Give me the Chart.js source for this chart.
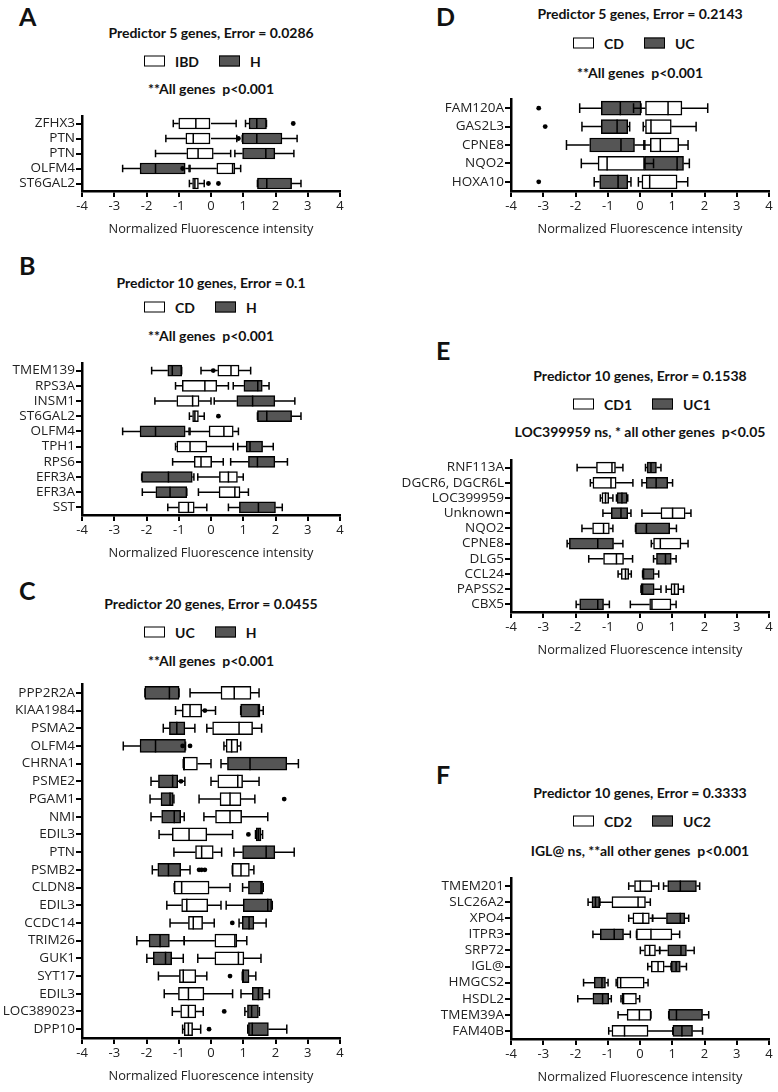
<!DOCTYPE html>
<html>
<head>
<meta charset="utf-8">
<script src="https://cdn.jsdelivr.net/npm/chart.js@4.4.1/dist/chart.umd.min.js"></script>
<style>
  body { margin: 0; background: #fff; }
  #fig { position: relative; width: 778px; height: 1092px; font-family: Lato, "Open Sans", sans-serif; color: #111; overflow: hidden; }
  .letter { position: absolute; font-weight: bold; font-size: 25px; transform: translateY(-50%); }
  .ttl { position: absolute; transform: translate(-50%, -50%); white-space: pre; font-weight: bold; font-size: 14px; }
  .leg { position: absolute; transform: translateY(-50%); display: flex; align-items: center; font-weight: bold; font-size: 14px; white-space: nowrap; }
  .sw { width: 19px; height: 9px; border: 1.5px solid #000; margin-right: 10px; }
  .leg span.lab { margin-right: 20px; }
  canvas { position: absolute; }
</style>
</head>
<body>
<div id="fig"></div>
<script>
// ---- data: [min, q1, median, q3, max] per gene, plus outlier points ----

// A
const aGenes = ['ZFHX3', 'PTN', 'PTN', 'OLFM4', 'ST6GAL2'];
const aGroups = ['IBD', 'H'];
const aWhite = [[-1.17, -1.0, -0.47, 0.0, 0.78], [-1.4, -0.78, -0.55, 0.0, 0.8], [-1.72, -0.75, -0.4, 0.07, 0.61], [-0.65, 0.18, 0.67, 0.74, 0.92], [-0.67, -0.57, -0.5, -0.39, -0.21]];
const aDark = [[1.07, 1.18, 1.42, 1.72, 1.72], [0.97, 0.97, 1.42, 2.2, 2.67], [0.74, 0.98, 1.7, 1.98, 2.57], [-2.74, -2.2, -1.72, -0.8, -0.68], [1.44, 1.44, 1.73, 2.5, 2.79]];
const aWhiteOut = [[], [0.85], [], [-0.88], [-0.08, 0.23]];
const aDarkOut = [[2.55], [], [], [], []];

// B
const bGenes = ['TMEM139', 'RPS3A', 'INSM1', 'ST6GAL2', 'OLFM4', 'TPH1', 'RPS6', 'EFR3A', 'EFR3A', 'SST'];
const bGroups = ['CD', 'H'];
const bWhite = [[-0.31, 0.21, 0.62, 0.87, 1.23], [-1.1, -0.89, -0.19, 0.18, 0.54], [-1.74, -1.06, -0.57, -0.37, 0.0], [-0.67, -0.57, -0.5, -0.39, -0.21], [-0.65, -0.06, 0.4, 0.69, 0.85],
  [-1.1, -1.06, -0.65, -0.13, 0.69], [-1.19, -0.52, -0.31, 0.02, 0.38], [-0.41, 0.26, 0.54, 0.82, 1.0], [-0.39, 0.25, 0.74, 0.9, 1.16], [-1.34, -1.01, -0.7, -0.52, -0.13]];
const bDark = [[-1.84, -1.34, -1.2, -0.91, -0.91], [0.69, 1.02, 1.45, 1.59, 1.8], [0.1, 0.8, 1.29, 1.98, 2.6], [1.44, 1.44, 1.73, 2.5, 2.79], [-2.74, -2.2, -1.72, -0.8, -0.68],
  [0.83, 1.09, 1.21, 1.6, 1.93], [0.61, 1.16, 1.44, 1.98, 2.37], [-2.15, -2.15, -1.32, -0.58, -0.53], [-2.13, -1.71, -1.27, -0.75, -0.75], [0.54, 0.88, 1.47, 2.0, 2.21]];
const bWhiteOut = [[], [], [], [0.23], [], [], [], [], [], []];
const bDarkOut = [[0.07], [], [], [], [], [], [], [], [], []];

// C
const cGenes = ['PPP2R2A', 'KIAA1984', 'PSMA2', 'OLFM4', 'CHRNA1', 'PSME2', 'PGAM1', 'NMI', 'EDIL3', 'PTN',
  'PSMB2', 'CLDN8', 'EDIL3', 'CCDC14', 'TRIM26', 'GUK1', 'SYT17', 'EDIL3', 'LOC389023', 'DPP10'];
const cGroups = ['UC', 'H'];
const cWhite = [[-0.65, 0.31, 0.72, 1.24, 1.49], [-1.1, -0.89, -0.65, -0.29, 0.14], [-0.13, 0.05, 0.87, 1.29, 1.57], [0.4, 0.47, 0.64, 0.83, 0.92], [-0.86, -0.86, -0.83, -0.42, 0.0],
  [0.0, 0.21, 0.83, 0.98, 1.49], [-0.37, 0.28, 0.59, 0.93, 1.36], [-0.22, 0.14, 0.59, 0.95, 1.76], [-1.61, -1.2, -0.68, -0.13, 0.67], [-1.15, -0.48, -0.29, 0.07, 0.33],
  [0.66, 0.66, 0.93, 1.19, 1.33], [-1.14, -1.14, -0.91, -0.06, 0.59], [-1.37, -0.91, -0.75, -0.1, 0.31], [-1.27, -0.7, -0.55, -0.26, 0.1], [-0.83, 0.12, 0.74, 0.8, 1.11],
  [-0.41, 0.12, 0.85, 1.02, 1.55], [-1.63, -0.98, -0.86, -0.47, -0.13], [-1.45, -1.01, -0.7, -0.22, 0.67], [-1.2, -0.94, -0.7, -0.47, -0.24], [-0.88, -0.83, -0.7, -0.57, -0.32]];
const cDark = [[-2.05, -2.05, -1.29, -0.99, -0.99], [0.92, 0.92, 1.47, 1.52, 1.62], [-1.48, -1.29, -1.06, -0.81, -0.5], [-2.72, -2.2, -1.72, -0.79, -0.79], [0.31, 0.51, 1.21, 2.35, 2.71],
  [-1.86, -1.63, -1.19, -1.03, -0.81], [-1.89, -1.55, -1.27, -1.17, -1.15], [-1.86, -1.53, -1.14, -0.94, -0.83], [1.38, 1.4, 1.47, 1.55, 1.6], [0.71, 0.98, 1.71, 1.98, 2.58],
  [-1.82, -1.65, -1.32, -0.94, -0.65], [0.98, 1.16, 1.55, 1.6, 1.62], [0.47, 1.0, 1.76, 1.88, 1.9], [0.87, 0.97, 1.18, 1.33, 1.71], [-2.3, -1.92, -1.58, -1.29, -0.83],
  [-1.99, -1.79, -1.41, -1.22, -0.86], [0.97, 0.97, 1.0, 1.18, 1.39], [0.93, 1.28, 1.47, 1.62, 1.81], [1.05, 1.13, 1.26, 1.47, 1.5], [1.14, 1.16, 1.28, 1.78, 2.35]];
const cWhiteOut = [[], [-0.19], [], [-0.88, -0.65], [], [], [2.27], [], [], [], [-0.37, -0.29, -0.19], [], [], [], [], [], [0.59], [], [0.41], [-0.06]];
const cDarkOut = [[], [], [], [], [], [-0.93], [], [], [1.16], [], [], [], [], [0.66], [], [], [], [], [], []];

// D
const dGenes = ['FAM120A', 'GAS2L3', 'CPNE8', 'NQO2', 'HOXA10'];
const dGroups = ['CD', 'UC'];
const dWhite = [[-0.2, 0.17, 0.87, 1.3, 2.1], [0.1, 0.17, 0.34, 0.97, 1.74], [0.15, 0.32, 0.63, 1.2, 1.49], [-1.82, -1.3, -1.02, 0.14, 0.42], [-0.05, 0.06, 0.3, 1.15, 1.48]];
const dDark = [[-1.87, -1.2, -0.61, 0.03, 0.03], [-1.8, -1.2, -0.71, -0.38, -0.32], [-2.28, -1.56, -0.59, -0.17, 0.12], [0.14, 0.14, 1.15, 1.35, 1.53], [-1.42, -1.25, -0.68, -0.38, -0.28]];
const dWhiteOut = [[], [], [], [], []];
const dDarkOut = [[-3.14], [-2.94], [], [], [-3.14]];

// E
const eGenes = ['RNF113A', 'DGCR6, DGCR6L', 'LOC399959', 'Unknown', 'NQO2', 'CPNE8', 'DLG5', 'CCL24', 'PAPSS2', 'CBX5'];
const eGroups = ['CD1', 'UC1'];
const eWhite = [[-1.95, -1.35, -0.87, -0.76, -0.53], [-1.54, -1.46, -0.9, -0.74, -0.22], [-1.23, -1.18, -1.07, -0.97, -0.84], [0.06, 0.65, 1.01, 1.4, 1.58], [-1.8, -1.47, -1.13, -0.95, -0.84],
  [0.35, 0.42, 0.63, 1.27, 1.49], [-1.59, -1.13, -0.73, -0.51, -0.23], [-0.68, -0.58, -0.45, -0.35, -0.27], [0.81, 0.96, 1.07, 1.2, 1.35], [-0.3, 0.3, 0.37, 0.96, 1.12]];
const eDark = [[0.17, 0.22, 0.34, 0.51, 0.65], [0.06, 0.19, 0.5, 0.86, 1.01], [-0.73, -0.71, -0.56, -0.4, -0.38], [-1.15, -0.89, -0.59, -0.38, -0.28], [-0.14, -0.14, 0.2, 0.92, 1.13],
  [-2.26, -2.19, -1.31, -0.82, -0.53], [0.42, 0.51, 0.79, 0.97, 1.12], [0.08, 0.08, 0.11, 0.44, 0.58], [0.03, 0.03, 0.08, 0.44, 0.65], [-1.98, -1.87, -1.31, -1.13, -0.95]];
const eWhiteOut = [[], [], [], [], [], [], [], [], [], []];
const eDarkOut = [[], [], [], [], [], [], [], [], [], []];

// F
const fGenes = ['TMEM201', 'SLC26A2', 'XPO4', 'ITPR3', 'SRP72', 'IGL@', 'HMGCS2', 'HSDL2', 'TMEM39A', 'FAM40B'];
const fGroups = ['CD2', 'UC2'];
const fWhite = [[-0.35, -0.17, 0.01, 0.37, 0.58], [-1.25, -0.87, -0.06, 0.17, 0.32], [-0.35, -0.22, 0.09, 0.29, 0.39], [-0.11, -0.11, 0.34, 0.99, 1.23], [0.01, 0.14, 0.3, 0.48, 0.61],
  [0.24, 0.35, 0.56, 0.75, 0.97], [-0.74, -0.71, -0.6, 0.13, 0.25], [-0.59, -0.56, -0.51, -0.11, -0.01], [-0.68, -0.4, -0.02, 0.34, 0.34], [-0.97, -0.87, -0.48, 0.25, 1.02]];
const fDark = [[0.73, 0.86, 1.25, 1.75, 1.85], [-1.61, -1.49, -1.38, -1.25, -1.25], [0.39, 0.82, 1.25, 1.39, 1.51], [-1.46, -1.23, -0.8, -0.51, -0.3], [0.61, 0.86, 1.27, 1.44, 1.68],
  [0.97, 0.97, 1.12, 1.25, 1.44], [-1.75, -1.42, -1.18, -1.07, -0.99], [-1.93, -1.46, -1.16, -0.97, -0.89], [0.89, 0.89, 1.13, 1.94, 2.13], [1.02, 1.02, 1.3, 1.63, 1.94]];
const fWhiteOut = [[], [], [], [], [], [], [], [], [], []];
const fDarkOut = [[], [], [], [], [], [], [], [], [], []];

const xTicks = [-4, -3, -2, -1, 0, 1, 2, 3, 4];

// ---- layout ----
const AXFONT = '"Open Sans", Lato, sans-serif';
const DARK = '#555555';
const fig = document.getElementById('fig');

const panels = [
  { letter: 'A', col: 0, letterY: 16, titleY: 32, legY: 61, subY: 88, top: 116, bottom: 191, bar: 11,
    title: 'Predictor 5 genes, Error = 0.0286', sub: '**All genes  p<0.001',
    genes: aGenes, groups: aGroups, white: aWhite, dark: aDark, wOut: aWhiteOut, dOut: aDarkOut },
  { letter: 'B', col: 0, letterY: 265, titleY: 282, legY: 307, subY: 335, top: 363, bottom: 515, bar: 11,
    title: 'Predictor 10 genes, Error = 0.1', sub: '**All genes  p<0.001',
    genes: bGenes, groups: bGroups, white: bWhite, dark: bDark, wOut: bWhiteOut, dOut: bDarkOut },
  { letter: 'C', col: 0, letterY: 590, titleY: 603, legY: 632, subY: 660, top: 684, bottom: 1038, bar: 13,
    title: 'Predictor 20 genes, Error = 0.0455', sub: '**All genes  p<0.001',
    genes: cGenes, groups: cGroups, white: cWhite, dark: cDark, wOut: cWhiteOut, dOut: cDarkOut },
  { letter: 'D', col: 1, letterY: 16, titleY: 13, legY: 43, subY: 72, top: 99, bottom: 191, bar: 14,
    title: 'Predictor 5 genes, Error = 0.2143', sub: '**All genes  p<0.001',
    genes: dGenes, groups: dGroups, white: dWhite, dark: dDark, wOut: dWhiteOut, dOut: dDarkOut },
  { letter: 'E', col: 1, letterY: 350, titleY: 375, legY: 404, subY: 431, top: 460, bottom: 612, bar: 11,
    title: 'Predictor 10 genes, Error = 0.1538', sub: 'LOC399959 ns, * all other genes  p<0.05',
    genes: eGenes, groups: eGroups, white: eWhite, dark: eDark, wOut: eWhiteOut, dOut: eDarkOut },
  { letter: 'F', col: 1, letterY: 774, titleY: 792, legY: 821, subY: 850, top: 878, bottom: 1039, bar: 11,
    title: 'Predictor 10 genes, Error = 0.3333', sub: 'IGL@ ns, **all other genes  p<0.001',
    genes: fGenes, groups: fGroups, white: fWhite, dark: fDark, wOut: fWhiteOut, dOut: fDarkOut }
];

// whiskers, medians and outliers, placed with the chart's own scales
const boxExtras = {
  id: 'boxExtras',
  afterDatasetsDraw(chart) {
    const ctx = chart.ctx;
    const xs = chart.scales.x;
    const px = v => xs.getPixelForValue(v);
    ctx.save();
    ctx.strokeStyle = '#000';
    ctx.fillStyle = '#000';
    ctx.lineWidth = 1.5;
    chart.data.datasets.forEach((ds, di) => {
      chart.getDatasetMeta(di).data.forEach((bar, i) => {
        const [mn, q1, md, q3, mx] = ds.stats[i];
        const y = bar.y, h = bar.height, cap = h * 0.35;
        ctx.beginPath();
        ctx.moveTo(px(mn), y); ctx.lineTo(px(q1), y);
        ctx.moveTo(px(q3), y); ctx.lineTo(px(mx), y);
        ctx.moveTo(px(mn), y - cap); ctx.lineTo(px(mn), y + cap);
        ctx.moveTo(px(mx), y - cap); ctx.lineTo(px(mx), y + cap);
        ctx.moveTo(px(md), y - h / 2); ctx.lineTo(px(md), y + h / 2);
        ctx.stroke();
        (ds.outliers[i] || []).forEach(v => {
          ctx.beginPath();
          ctx.arc(px(v), y, 2.4, 0, Math.PI * 2);
          ctx.fill();
        });
      });
    });
    ctx.restore();
  }
};

function addText(cls, html, x, y) {
  const el = document.createElement('div');
  el.className = cls;
  el.innerHTML = html;
  el.style.left = x + 'px';
  el.style.top = y + 'px';
  fig.appendChild(el);
  return el;
}

panels.forEach(p => {
  const colLeft = p.col === 0 ? 0 : 389;
  const plotL = p.col === 0 ? 82 : 511;
  const plotR = plotL + 258;
  const mid = (plotL + plotR) / 2;

  addText('letter', p.letter, p.col === 0 ? 19 : 436, p.letterY);
  addText('ttl', p.title, mid, p.titleY);
  addText('leg',
    `<div class="sw" style="background:#fff"></div><span class="lab">${p.groups[0]}</span>` +
    `<div class="sw" style="background:${DARK}"></div><span>${p.groups[1]}</span>`,
    mid - 67, p.legY);
  addText('ttl', p.sub, mid, p.subY);

  const canvasTop = p.top - 12;
  const cv = document.createElement('canvas');
  cv.width = 389;
  cv.height = p.bottom - canvasTop + 52;
  cv.style.left = colLeft + 'px';
  cv.style.top = canvasTop + 'px';
  fig.appendChild(cv);

  const yWidth = plotL - colLeft;
  const padRight = colLeft + 389 - plotR;

  new Chart(cv, {
    type: 'bar',
    data: {
      labels: p.genes,
      datasets: [
        { label: p.groups[0], data: p.white.map(s => [s[1], s[3]]), stats: p.white, outliers: p.wOut,
          backgroundColor: '#ffffff', borderColor: '#000', borderWidth: 1.5, borderSkipped: false,
          barThickness: p.bar, grouped: false },
        { label: p.groups[1], data: p.dark.map(s => [s[1], s[3]]), stats: p.dark, outliers: p.dOut,
          backgroundColor: DARK, borderColor: '#000', borderWidth: 1.5, borderSkipped: false,
          barThickness: p.bar, grouped: false }
      ]
    },
    options: {
      indexAxis: 'y',
      responsive: false,
      animation: false,
      layout: { padding: { top: 12, right: padRight, left: 0, bottom: 0 } },
      plugins: { legend: { display: false }, tooltip: { enabled: false } },
      scales: {
        x: {
          type: 'linear', min: -4, max: 4,
          afterBuildTicks: s => { s.ticks = xTicks.map(v => ({ value: v })); },
          ticks: { color: '#222', font: { family: AXFONT, size: 13 }, padding: 1 },
          grid: { drawOnChartArea: false, drawTicks: true, tickLength: 6, color: '#000', lineWidth: 2 },
          border: { color: '#000', width: 2.5 },
          title: { display: true, text: 'Normalized Fluorescence intensity', color: '#222',
            font: { family: AXFONT, size: 12.8 }, padding: { top: 0, bottom: 6 } },
          afterFit: s => { s.height = 52; }
        },
        y: {
          offset: true,
          ticks: { color: '#222', font: { family: AXFONT, size: 13.5 }, padding: 1, autoSkip: false },
          grid: { offset: false, drawOnChartArea: false, drawTicks: true, tickLength: 6, color: '#000', lineWidth: 2 },
          border: { color: '#000', width: 2.5 },
          afterFit: s => { s.width = yWidth; }
        }
      }
    },
    plugins: [boxExtras]
  });
});
</script>
</body>
</html>
